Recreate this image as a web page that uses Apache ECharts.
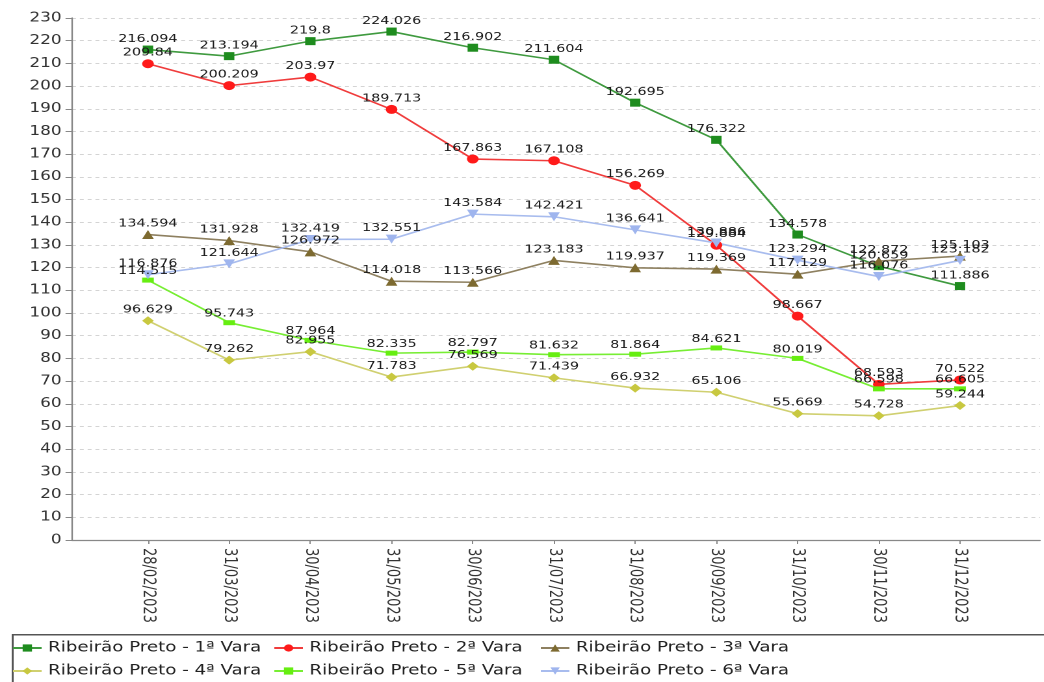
<!DOCTYPE html>
<html>
<head>
<meta charset="utf-8">
<script src="https://cdn.jsdelivr.net/npm/echarts@6/dist/echarts.min.js"></script>
<style>
html,body{margin:0;padding:0;background:#fff;overflow:hidden;width:1044px;height:682px;}
#main{width:803px;height:682px;transform:scaleX(1.3);transform-origin:0 0;}
</style>
</head>
<body>
<div id="main"></div>
<script>
const dates = ['28/02/2023','31/03/2023','30/04/2023','31/05/2023','30/06/2023','31/07/2023','31/08/2023','30/09/2023','31/10/2023','30/11/2023','31/12/2023'];
const seriesNames = ['Ribeirão Preto - 1ª Vara','Ribeirão Preto - 2ª Vara','Ribeirão Preto - 3ª Vara','Ribeirão Preto - 4ª Vara','Ribeirão Preto - 5ª Vara','Ribeirão Preto - 6ª Vara'];
const vara1 = [216.094, 213.194, 219.8, 224.026, 216.902, 211.604, 192.695, 176.322, 134.578, 120.659, 111.886];
const vara2 = [209.84, 200.209, 203.97, 189.713, 167.863, 167.108, 156.269, 129.884, 98.667, 68.593, 70.522];
const vara3 = [134.594, 131.928, 126.972, 114.018, 113.566, 123.183, 119.937, 119.369, 117.129, 122.872, 125.103];
const vara4 = [96.629, 79.262, 82.955, 71.783, 76.569, 71.439, 66.932, 65.106, 55.669, 54.728, 59.244];
const vara5 = [114.515, 95.743, 87.964, 82.335, 82.797, 81.632, 81.864, 84.621, 80.019, 66.598, 66.605];
const vara6 = [116.876, 121.644, 132.419, 132.551, 143.584, 142.421, 136.641, 130.886, 123.294, 116.076, 123.182];
const yTicks = [0, 230, 10]; // min, max, interval

const idx = dates.map((d, i) => i);
const chart = echarts.init(document.getElementById('main'), null, {devicePixelRatio: 2});

function mk(name, arr, lineColor, markColor, symbol, size, rotate) {
  return {
    name: name,
    type: 'line',
    data: arr.map((v, i) => [i, v]),
    symbol: symbol,
    symbolSize: size,
    symbolRotate: rotate || 0,
    showAllSymbol: true,
    lineStyle: {color: lineColor, width: 1.6},
    itemStyle: {color: markColor, borderWidth: 0},
    label: {
      show: true, position: 'top', distance: 1,
      fontFamily: 'DejaVu Sans', fontSize: 11, color: '#1a1a1a',
      formatter: p => String(p.value[1])
    },
    emphasis: {disabled: true},
    z: 2
  };
}

const series = [
  mk(seriesNames[0], vara1, '#3f9a3f', '#1e8c1e', 'rect', 8),
  mk(seriesNames[1], vara2, '#f03c3c', '#ff1a1a', 'circle', 9),
  mk(seriesNames[2], vara3, '#8e8060', '#7d6a30', 'triangle', 9),
  mk(seriesNames[3], vara4, '#d0d070', '#c8c840', 'diamond', 9),
  mk(seriesNames[4], vara5, '#77ee33', '#66ee11', 'rect', [9, 5]),
  mk(seriesNames[5], vara6, '#a8bcee', '#9fb5ee', 'triangle', 9, 180)
];

const legendPos = [[9, 641], [210, 641], [415, 641], [9, 664], [210, 664], [415, 664]];
const legends = seriesNames.map((n, i) => ({
  data: [n], left: legendPos[i][0], top: legendPos[i][1], padding: 0,
  itemWidth: 22, itemHeight: 9, itemGap: 0,
  textStyle: {fontFamily: 'DejaVu Sans', fontSize: 14, color: '#222'},
  selectedMode: false
}));

chart.setOption({
  animation: false,
  backgroundColor: '#fff',
  grid: {left: 55.4, right: 3, top: 18, bottom: 142, containLabel: false},
  legend: legends,
  xAxis: {
    type: 'value', min: -0.935, max: 10.985,
    axisLine: {show: true, onZero: false, lineStyle: {color: '#888', width: 1.2}},
    axisTick: {show: true, customValues: idx, length: 4, lineStyle: {color: '#888'}},
    axisLabel: {
      customValues: idx, rotate: -90, margin: 8,
      fontFamily: 'DejaVu Sans', fontSize: 13, color: '#333',
      formatter: v => dates[Math.round(v)]
    },
    splitLine: {show: false}
  },
  yAxis: {
    type: 'value', min: yTicks[0], max: yTicks[1], interval: yTicks[2],
    axisLine: {show: true, onZero: false, lineStyle: {color: '#888', width: 1.2}},
    axisTick: {show: true, length: 5, lineStyle: {color: '#888'}},
    axisLabel: {margin: 8, fontFamily: 'DejaVu Sans', fontSize: 13, color: '#333'},
    splitLine: {show: true, lineStyle: {color: '#d4d4d4', type: [3, 3], width: 1}}
  },
  graphic: [{
    type: 'rect', left: 9, top: 634, z: -1,
    shape: {width: 800, height: 60},
    style: {fill: '#fff', stroke: '#555', lineWidth: 1.5}
  }],
  series: series
});
</script>
</body>
</html>
